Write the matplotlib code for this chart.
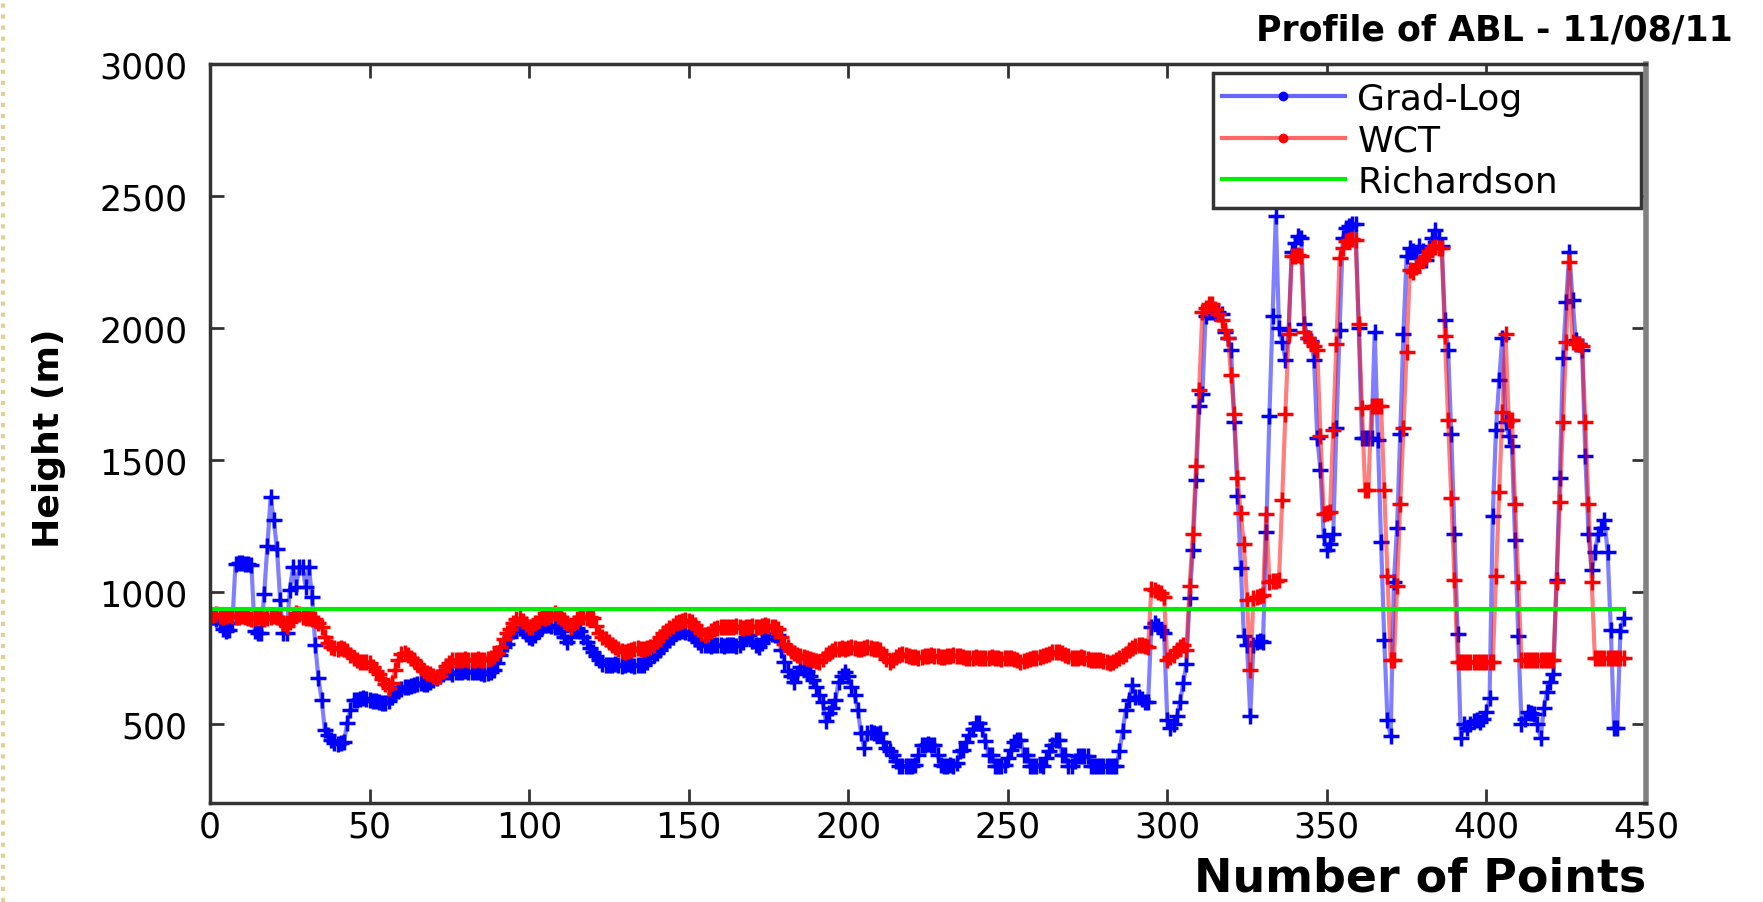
import numpy as np
import matplotlib
matplotlib.use("Agg")
import matplotlib.pyplot as plt
from matplotlib.lines import Line2D

# ABL height per profile point
grad_log = [
    905, 895, 880, 860, 850, 855, 880, 1106, 1110, 1108,
    1106, 1104, 1100, 850, 842, 842, 993, 1175, 1358, 1270,
    1163, 968, 842, 842, 1005, 1094, 1018, 1094, 1094, 1018,
    1094, 980, 798, 672, 590, 477, 458, 440, 427, 425,
    427, 430, 502, 553, 590, 592, 595, 597, 595, 590,
    588, 585, 582, 580, 578, 585, 600, 616, 625, 630,
    638, 641, 645, 648, 650, 655, 652, 650, 658, 666,
    672, 680, 690, 695, 697, 690, 695, 697, 697, 700,
    697, 695, 697, 697, 693, 690, 691, 695, 705, 729,
    760, 790, 804, 830, 850, 861, 861, 855, 840, 830,
    823, 835, 850, 865, 873, 873, 870, 867, 867, 850,
    830, 811, 830, 855, 861, 850, 830, 810, 786, 770,
    755, 740, 728, 723, 723, 723, 725, 723, 720, 722,
    725, 723, 720, 722, 723, 723, 735, 750, 760, 767,
    780, 795, 805, 817, 830, 842, 848, 850, 848, 842,
    835, 820, 808, 800, 798, 798, 795, 798, 800, 798,
    795, 798, 800, 798, 796, 798, 810, 830, 836, 815,
    800, 792, 805, 820, 836, 840, 836, 836, 780, 735,
    700, 680, 660, 690, 716, 716, 700, 680, 666, 640,
    610, 584, 509, 540, 560, 591, 660, 680, 697, 680,
    640, 609, 553, 465, 408, 465, 470, 465, 460, 465,
    430, 410, 396, 380, 360, 339, 339, 339, 339, 339,
    345, 380, 421, 421, 425, 421, 420, 380, 345, 342,
    342, 345, 342, 350, 396, 400, 430, 458, 480, 502,
    502, 480, 433, 383, 383, 342, 342, 342, 345, 370,
    402, 430, 440, 440, 383, 383, 342, 342, 342, 345,
    342, 370, 396, 420, 440, 440, 383, 383, 342, 342,
    360, 379, 379, 379, 379, 342, 342, 342, 342, 342,
    342, 342, 342, 342, 396, 471, 553, 590, 647, 603,
    603, 595, 584, 584, 867, 880, 870, 855, 842, 515,
    484, 500, 528, 582, 653, 726, 976, 1158, 1423, 1704,
    1749, 2045, 2060, 2060, 2055, 2060, 2050, 1984, 1960, 1916,
    1643, 1363, 1090, 832, 800, 529, 800, 809, 815, 809,
    1226, 1666, 2045, 2424, 1999, 1946, 1878, 1990, 2287, 2320,
    2348, 2340, 2015, 1962, 1950, 1878, 1582, 1461, 1211, 1158,
    1180, 1219, 1620, 1992, 2340, 2378, 2385, 2393, 2393, 2000,
    1582, 1582, 1582, 1582, 1984, 1575, 1188, 817, 514, 453,
    1037, 1241, 1598, 1977, 2272, 2302, 2290, 2265, 2310, 2290,
    2257, 2300, 2340, 2371, 2340, 2310, 2030, 1916, 1598, 1219,
    840, 445, 500, 483, 500, 510, 514, 505, 520, 544,
    597, 1287, 1613, 1800, 1961, 1643, 1590, 1552, 1196, 832,
    498, 520, 544, 540, 536, 500, 445, 560, 620, 660,
    688, 1044, 1431, 1886, 2098, 2287, 2105, 1954, 1940, 1916,
    1514, 1219, 1082, 1150, 1219, 1240, 1272, 1150, 855, 483,
    483, 850, 900,
]

wct = [
    912, 915, 910, 905, 908, 912, 910, 905, 903, 908,
    905, 900, 898, 902, 905, 900, 895, 900, 905, 910,
    905, 895, 880, 872, 885, 905, 918, 915, 905, 900,
    902, 898, 895, 880, 867, 830, 805, 790, 786, 785,
    786, 782, 775, 760, 750, 740, 735, 733, 735, 730,
    715, 700, 690, 670, 650, 635, 655, 705, 740, 765,
    768, 760, 748, 740, 725, 710, 700, 692, 688, 682,
    678, 680, 700, 720, 730, 740, 742, 740, 742, 745,
    742, 740, 742, 745, 742, 740, 745, 750, 758, 767,
    790, 820, 842, 860, 880, 895, 900, 890, 878, 867,
    868, 880, 895, 905, 900, 905, 912, 918, 910, 900,
    892, 880, 867, 880, 898, 905, 905, 902, 905, 900,
    870, 842, 830, 820, 811, 800, 790, 782, 777, 773,
    775, 780, 785, 786, 785, 784, 786, 790, 800, 815,
    830, 845, 850, 862, 872, 880, 885, 890, 892, 890,
    885, 875, 860, 845, 836, 840, 850, 858, 862, 866,
    868, 866, 865, 868, 870, 866, 862, 865, 868, 872,
    868, 865, 870, 875, 870, 866, 868, 860, 830, 804,
    790, 775, 767, 760, 758, 752, 748, 745, 740, 736,
    735, 745, 760, 767, 775, 782, 785, 788, 785, 786,
    790, 788, 785, 784, 786, 790, 786, 784, 785, 780,
    765, 745, 735, 740, 752, 760, 766, 762, 758, 754,
    752, 750, 754, 756, 758, 760, 758, 755, 752, 754,
    756, 758, 760, 758, 755, 752, 750, 748, 750, 752,
    750, 748, 748, 750, 752, 750, 748, 746, 748, 750,
    748, 745, 740, 735, 738, 742, 745, 748, 750, 752,
    755, 760, 765, 770, 773, 772, 768, 762, 756, 750,
    748, 750, 752, 748, 745, 742, 741, 740, 742, 738,
    733, 731, 735, 742, 750, 758, 765, 778, 788, 795,
    798, 797, 795, 792, 1012, 1008, 1000, 995, 980, 741,
    752, 760, 779, 790, 798, 780, 1021, 1219, 1477, 1764,
    2060, 2075, 2090, 2090, 2070, 2050, 2030, 1990, 1961, 1820,
    1673, 1431, 1300, 1181, 968, 703, 976, 980, 984, 988,
    1294, 1037, 1040, 1040, 1044, 1347, 1673, 1977, 2272, 2272,
    2275, 2272, 1984, 1960, 1946, 1930, 1916, 1590, 1294, 1300,
    1302, 1613, 1939, 2265, 2300, 2330, 2333, 2335, 2333, 2015,
    1696, 1385, 1385, 1704, 1704, 1704, 1704, 1385, 1059, 741,
    741, 1021, 1332, 1620, 1908, 2219, 2210, 2230, 2240, 2257,
    2270, 2290, 2302, 2305, 2302, 2300, 1969, 1651, 1355, 1044,
    733, 733, 733, 733, 733, 733, 733, 733, 733, 733,
    733, 733, 1059, 1378, 1681, 1977, 1651, 1651, 1332, 1037,
    741, 741, 741, 741, 741, 741, 741, 741, 741, 741,
    741, 1037, 1340, 1643, 1946, 2250, 1946, 1940, 1939, 1930,
    1643, 1332, 1037, 749, 749, 749, 749, 749, 749, 749,
    749, 749, 749,
]

rich_x = [1, 443]
rich_y = [935, 935]

x_ticks = [0, 50, 100, 150, 200, 250, 300, 350, 400, 450]
y_ticks = [500, 1000, 1500, 2000, 2500, 3000]

x_grad = np.arange(1, len(grad_log) + 1)
x_wct = np.arange(1, len(wct) + 1)

plt.rcParams['font.family'] = ['DejaVu Sans']

fig = plt.figure(figsize=(17.63, 9.03), dpi=100)
ax = fig.add_axes([0.1191, 0.1096, 0.8145, 0.8189])

ax.plot(x_grad, grad_log, color=(0, 0, 1, 0.5), lw=3, marker='+', ms=11,
        mew=2.5, mec='blue', mfc='blue')
ax.plot(x_wct, wct, color=(1, 0, 0, 0.5), lw=3, marker='+', ms=11,
        mew=2.5, mec='red', mfc='red')
ax.plot(rich_x, rich_y, color='#00ee00', lw=3)

ax.set_xlim(0, 450)
ax.set_ylim(200, 3000)
ax.set_xticks(x_ticks)
ax.set_yticks(y_ticks)
ax.tick_params(direction='in', length=10, width=2, top=True, right=True,
               labelsize=25, pad=5, color='#333333')
ax.tick_params(axis='y', pad=16)
for side in ['left', 'bottom', 'top']:
    ax.spines[side].set_linewidth(2.5)
    ax.spines[side].set_color('#333333')
ax.spines['right'].set_linewidth(4)
ax.spines['right'].set_color('#808080')

handles = [
    Line2D([], [], color=(0, 0, 1, 0.6), lw=3, marker='.', ms=12, mec='blue', mfc='blue'),
    Line2D([], [], color=(1, 0, 0, 0.6), lw=3, marker='.', ms=12, mec='red', mfc='red'),
    Line2D([], [], color='#00ee00', lw=3),
]
leg = ax.legend(handles, ['Grad-Log', 'WCT', 'Richardson'],
                loc='upper left', bbox_to_anchor=(0.6985, 0, 0.298, 0.9872),
                mode='expand', borderaxespad=0, fontsize=26,
                handlelength=3.4, handletextpad=0.35, labelspacing=0.2,
                borderpad=0.25, fancybox=False, framealpha=1)
leg.get_frame().set_edgecolor('#333333')
leg.get_frame().set_linewidth(2.5)

fig.text(0.028, 0.515, 'Height (m)', rotation=90, ha='center', va='center',
         fontsize=26, fontweight='bold')
fig.text(0.9335, 0.013, 'Number of Points', ha='right', va='baseline',
         fontsize=33, fontweight='bold')
fig.text(0.7124, 0.9557, 'Profile of ABL - 11/08/11', ha='left', va='baseline',
         fontsize=25, fontweight='bold')

# dotted page edge on the far left
fig.add_artist(Line2D([0.0015, 0.0015], [0, 1], transform=fig.transFigure,
                      color='#e2cf98', ls=':', lw=3))

fig.savefig('out.png', dpi=100)
